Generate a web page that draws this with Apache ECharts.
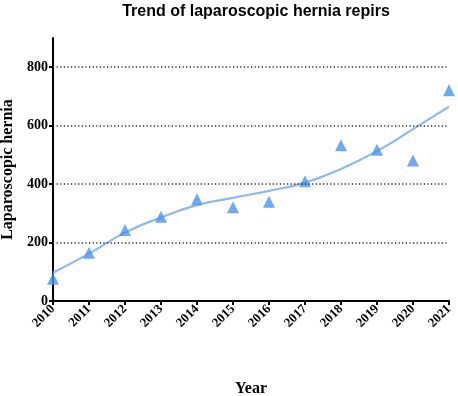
<!DOCTYPE html>
<html>
<head>
<meta charset="utf-8">
<script src="https://cdn.jsdelivr.net/npm/echarts@6/dist/echarts.min.js"></script>
<style>html,body{margin:0;padding:0;background:#fff}#c{width:458px;height:396px}</style>
</head>
<body>
<div id="c"></div>
<script>
var years = [2010, 2011, 2012, 2013, 2014, 2015, 2016, 2017, 2018, 2019, 2020, 2021];
var observed = [76, 165, 243, 288, 348, 321, 340, 410, 533, 518, 481, 721];
var trend = [97, 162, 234, 286, 328, 353, 377, 405, 452, 513, 588, 665];
var yTicks = [0, 200, 400, 600, 800];
var gridValues = [200, 400, 600, 800];

var chart = echarts.init(document.getElementById('c'), null, {renderer: 'canvas'});
var serif = '"Liberation Serif", "Times New Roman", serif';
chart.setOption({
  animation: false,
  title: {
    text: 'Trend of laparoscopic hernia repirs',
    left: 251, top: -1, textAlign: 'center',
    textStyle: {fontFamily: '"Liberation Sans", Arial, sans-serif', fontWeight: 'bold', fontSize: 16, color: '#000'}
  },
  grid: {left: 53, right: 9, top: 38, bottom: 95, containLabel: false, outerBoundsMode: 'none'},
  xAxis: {
    type: 'value', min: 2010, max: 2021, interval: 1,
    name: 'Year', nameLocation: 'middle', nameGap: 80,
    nameTextStyle: {fontFamily: serif, fontWeight: 'bold', fontSize: 16, color: '#000'},
    axisLine: {show: true, onZero: false, lineStyle: {color: '#000', width: 2}},
    axisTick: {show: true, length: 4, lineStyle: {color: '#000', width: 2}},
    axisLabel: {rotate: 45, margin: 6, fontFamily: serif, fontWeight: 'bold', fontSize: 13, color: '#000',
      formatter: function (v) { return String(v); }},
    splitLine: {show: false}
  },
  yAxis: {
    type: 'value', min: 0, max: 900,
    name: 'Laparoscopic hernia', nameLocation: 'middle', nameGap: 37,
    nameTextStyle: {fontFamily: serif, fontWeight: 'bold', fontSize: 16, color: '#000'},
    axisLine: {show: true, lineStyle: {color: '#000', width: 2}},
    axisTick: {show: true, length: 4, customValues: yTicks, lineStyle: {color: '#000', width: 2}},
    axisLabel: {customValues: yTicks, margin: 5, fontFamily: serif, fontWeight: 'bold', fontSize: 14, color: '#000'},
    splitLine: {show: false}
  },
  series: [
    {
      type: 'line', data: years.map(function (y, i) { return [y, trend[i]]; }),
      smooth: 0.5, showSymbol: false, symbol: 'none',
      lineStyle: {color: '#8ab8f2', width: 2.2}, z: 2,
      markLine: {
        silent: true, symbol: 'none', label: {show: false},
        lineStyle: {color: '#222', width: 1.6, type: [1.2, 2.4]},
        data: gridValues.map(function (v) { return {yAxis: v}; })
      }
    },
    {
      type: 'scatter', data: years.map(function (y, i) { return [y, observed[i]]; }),
      symbol: 'triangle', symbolSize: [12, 12],
      itemStyle: {color: '#4a93ee'}, z: 3
    }
  ]
});
</script>
</body>
</html>
